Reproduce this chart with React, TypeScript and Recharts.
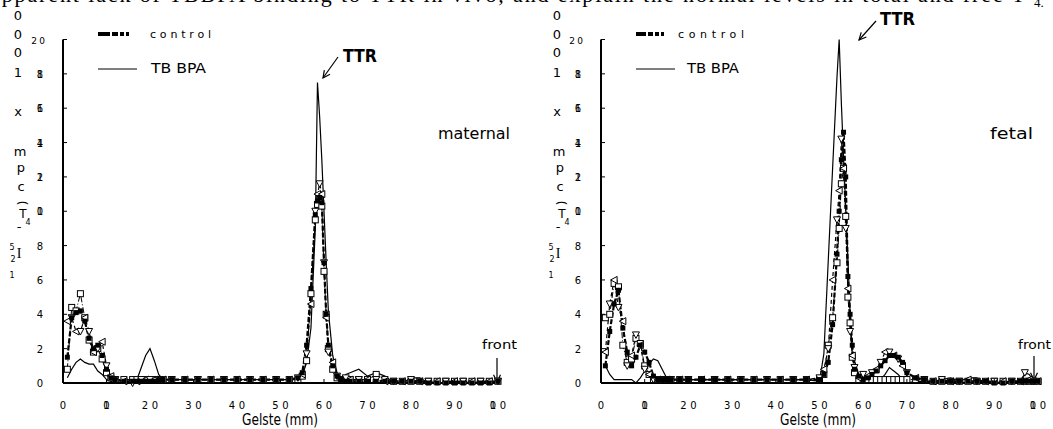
import React from "react";
import { LineChart, Line, XAxis, YAxis } from "recharts";

// gel position (mm) and 125I-T4 counts (cpm x 1000)
const maternalPos = [
  1, 2, 3, 4, 5, 6, 7, 8, 9, 10, 11, 12,
  14, 16, 17, 18, 19, 20, 21, 22, 23,
  25, 28, 31, 34, 37, 40, 43, 46, 49, 52,
  54, 55, 56, 57, 58, 58.5, 59, 59.5, 60, 60.5, 61, 62, 63, 64, 65, 66,
  68, 70, 72, 74, 76, 78, 80, 82, 84, 86, 88, 90, 92, 94, 96, 98, 100,
];
const maternalControl = [
  1.5, 3.8, 4.1, 4.2, 3.6, 2.6, 2.0, 2.2, 1.6, 0.8, 0.3, 0.2,
  0.1, 0.1, 0.1, 0.1, 0.1, 0.1, 0.1, 0.2, 0.2,
  0.2, 0.2, 0.2, 0.2, 0.2, 0.2, 0.2, 0.2, 0.2, 0.2,
  0.3, 0.6, 2.2, 5.5, 9.8, 10.6, 10.8, 10.5, 7.0, 4.0, 2.2, 1.0, 0.4, 0.2, 0.1, 0.1,
  0.1, 0.1, 0.1, 0.1, 0.1, 0.1, 0.1, 0.1, 0, 0, 0, 0, 0, 0, 0, 0, 0.1,
];
const maternalSquares = [
  0.8, 4.4, 4.2, 5.2, 3.8, 2.5, 1.8, 2.0, 1.4, 0.6, 0.3, 0.2,
  0.2, 0.2, 0.2, 0.2, 0.2, 0.2, 0.2, 0.2, 0.2,
  0.2, 0.2, 0.2, 0.2, 0.2, 0.2, 0.2, 0.2, 0.2, 0.2,
  0.2, 0.4, 1.3, 5.2, 9.5, 10.4, 10.7, 10.3, 6.5, 4.0, 2.0, 0.8, 0.3, 0.2, 0.2, 0.2,
  0.2, 0.2, 0.5, 0.2, 0.1, 0.1, 0.1, 0.1, 0.1, 0.1, 0.1, 0.1, 0.1, 0.1, 0.1, 0.1, 0.1,
];
const maternalTriangles = [
  3.6, 3.8, 3.0, 3.0, 3.8, 3.0, 1.8, 2.0, 2.4, 1.0, 0.4, 0.2,
  0.1, 0.0, 0.1, 0.2, 0.2, 0.2, 0.2, 0.2, 0.2,
  0.2, 0.2, 0.2, 0.2, 0.2, 0.2, 0.2, 0.2, 0.2, 0.2,
  0.3, 0.5, 1.7, 4.6, 10.0, 11.0, 11.6, 11.0, 7.0, 3.8, 1.8, 1.2, 0.4, 0.2, 0.3, 0.2,
  0.2, 0.2, 0.2, 0.1, 0.1, 0.1, 0.2, 0.1, 0.1, 0.1, 0.1, 0.1, 0.1, 0.1, 0.1, 0.1, 0.1,
];
const maternalTbbpa = [
  0.3, 0.8, 1.2, 1.4, 1.2, 1.1, 1.1, 0.7, 0.5, 0.2, 0.1, 0.1,
  0, 0, 0.2, 0.9, 1.6, 2.0, 1.3, 0.5, 0.2,
  0.2, 0.2, 0.2, 0.2, 0.2, 0.2, 0.2, 0.2, 0.2, 0.2,
  0.2, 0.4, 1.2, 3.2, 9.0, 17.5, 15.5, 13.0, 10.0, 7.0, 4.2, 1.6, 0.6, 0.2, 0.5, 0.6,
  0.8, 0.4, 0.6, 0.4, 0, 0, 0.3, 0.3, 0, 0, 0, 0, 0, 0, 0, 0.2, 0,
];

const fetalPos = [
  1, 2, 3, 4, 5, 6, 7, 8, 9, 10, 11, 12, 13, 14, 15, 16,
  18, 20, 23, 26, 29, 32, 35, 38, 41, 44, 47, 50,
  51, 52, 53, 54, 54.5, 55, 55.5, 56, 56.5, 57, 57.5, 58, 59, 60,
  61, 62, 63, 64, 65, 66, 67, 68, 69, 70,
  72, 74, 76, 78, 80, 82, 84, 86, 88, 90, 92, 94, 96, 97, 98, 99, 100,
];
const fetalControl = [
  1.0, 3.0, 4.6, 5.4, 3.2, 1.8, 1.0, 1.5, 2.2, 1.8, 1.2, 0.4, 0.2, 0.2, 0.2, 0.2,
  0.2, 0.2, 0.2, 0.2, 0.2, 0.2, 0.2, 0.2, 0.2, 0.2, 0.2, 0.2,
  0.5, 1.2, 3.4, 7.5, 10.0, 13.0, 14.6, 12.0, 6.2, 4.0, 2.2, 0.8, 0.4, 0.2,
  0.3, 0.5, 0.7, 1.0, 1.3, 1.6, 1.6, 1.5, 1.2, 0.6,
  0.3, 0.2, 0.1, 0.1, 0.1, 0.1, 0.1, 0.1, 0.1, 0, 0, 0.1, 0.1, 0.1, 0.1, 0.1, 0.1,
];
const fetalSquares = [
  3.8, 4.0, 5.8, 5.6, 2.2, 1.2, 1.4, 2.6, 2.3, 1.0, 0.5, 0.2, 0.2, 0.2, 0.2, 0.2,
  0.2, 0.2, 0.2, 0.2, 0.2, 0.2, 0.2, 0.2, 0.2, 0.2, 0.2, 0.2,
  0.5, 2.2, 3.8, 7.0, 9.0, 11.6, 12.5, 9.7, 5.0, 3.5, 1.5, 0.6, 0.2, 0.2,
  0.2, 0.2, 0.2, 0.2, 0.2, 0.2, 0.2, 0.2, 0.2, 0.2,
  0.2, 0.2, 0.1, 0.1, 0.1, 0.1, 0.1, 0.1, 0.1, 0.1, 0.1, 0.1, 0.1, 0.1, 0.1, 0.1, 0.1,
];
const fetalTriangles = [
  1.8, 4.6, 6.0, 4.4, 3.6, 1.0, 1.6, 2.8, 2.2, 0.8, 0.5, 0.2, 0.2, 0.2, 0.2, 0.2,
  0.2, 0.2, 0.2, 0.2, 0.2, 0.2, 0.2, 0.2, 0.2, 0.2, 0.2, 0.3,
  0.8, 2.0, 6.0, 9.5, 11.2, 14.2, 12.5, 9.0, 5.5, 3.0, 1.6, 0.9, 0.3, 0.5,
  0.4, 0.6, 0.8, 1.2, 1.8, 1.8, 1.6, 1.4, 1.0, 0.6,
  0.3, 0.2, 0.1, 0.2, 0.1, 0.1, 0.2, 0.1, 0.1, 0.1, 0.1, 0.1, 0.1, 0.6, 0.2, 0.1, 0.1,
];
const fetalTbbpa = [
  1.0, 0.5, 0.2, 0.2, 0.2, 0.2, 0.2, 0.0, 0.3, 0.7, 1.1, 1.4, 1.3, 0.8, 0.3, 0.2,
  0.2, 0.2, 0.2, 0.2, 0.2, 0.2, 0.2, 0.2, 0.2, 0.2, 0.2, 0.1,
  1.7, 7.1, 12.5, 17.8, 20.0, 16.3, 13.2, 10.2, 7.2, 4.1, 1.7, 1.3, 0.5, 0.0,
  0.0, 0.0, 0.0, 0.2, 0.5, 0.9, 0.7, 0.5, 0.2, 0.0,
  0.1, 0.1, 0.1, 0.2, 0.3, 0.1, 0.3, 0.3, 0, 0, 0, 0, 0, 0.6, 0.5, 0.1, 0,
];

const xTicks = [0, 10, 20, 30, 40, 50, 60, 70, 80, 90, 100];
const yTicks = [0, 2, 4, 6, 8, 10, 12, 14, 16, 18, 20];

const headerText =
  "apparent lack of TBBPA binding to TTR in vivo, and explain the normal levels in total and free T";

// stacked glyphs of the vertical y title, as printed in the scan
const yTitleGlyphs = [
  { ch: "0", x: 18, y: 15, size: 13 },
  { ch: "0", x: 18, y: 34, size: 13 },
  { ch: "0", x: 18, y: 52, size: 13 },
  { ch: "1", x: 18, y: 72, size: 13 },
  { ch: "x", x: 18, y: 111, size: 13 },
  { ch: "m", x: 20, y: 151, size: 13 },
  { ch: "p", x: 21, y: 167, size: 13 },
  { ch: "c", x: 21, y: 186, size: 13 },
  { ch: "(", x: 22, y: 203, size: 13, rot: 90 },
  { ch: "T", x: 23, y: 214, size: 12 },
  { ch: "-", x: 19, y: 226, size: 13 },
  { ch: "4", x: 28, y: 222, size: 8 },
  { ch: "5", x: 12, y: 247, size: 8 },
  { ch: "I", x: 19, y: 253, size: 14 },
  { ch: "2", x: 13, y: 259, size: 8 },
  { ch: "1", x: 12, y: 275, size: 8 },
];

const tickFont = "'DejaVu Sans', sans-serif";
const handFont = "'DejaVu Sans Condensed', 'Liberation Sans Narrow', 'DejaVu Sans', sans-serif";

const buildRows = (
  pos: number[],
  control: number[],
  squares: number[],
  triangles: number[],
  tbbpa: number[]
) =>
  pos.map((p, i) => ({
    pos: p,
    control: control[i],
    squares: squares[i],
    triangles: triangles[i],
    tbbpa: tbbpa[i],
  }));

const maternalRows = buildRows(maternalPos, maternalControl, maternalSquares, maternalTriangles, maternalTbbpa);
const fetalRows = buildRows(fetalPos, fetalControl, fetalSquares, fetalTriangles, fetalTbbpa);

const Digit = ({ x, y, ch, size = 10 }: any) => (
  <text x={x} y={y} textAnchor="middle" fontSize={size} fontFamily={tickFont} fill="#000">
    {ch}
  </text>
);

const XTick = (props: any) => {
  const { x, y, payload } = props;
  const v: number = payload.value;
  const ty = y + 26;
  let label: React.ReactNode;
  if (v === 0) label = <Digit x={x} y={ty} ch="0" />;
  else if (v === 10)
    label = (
      <>
        <Digit x={x} y={ty} ch="1" />
        <Digit x={x} y={ty} ch="0" />
      </>
    );
  else if (v === 100)
    label = (
      <>
        <Digit x={x - 5} y={ty} ch="1" />
        <Digit x={x - 5} y={ty} ch="0" />
        <Digit x={x + 5} y={ty} ch="0" />
      </>
    );
  else {
    const s = String(v);
    label = (
      <>
        <Digit x={x - 5} y={ty} ch={s[0]} />
        <Digit x={x + 5} y={ty} ch={s[1]} />
      </>
    );
  }
  return (
    <g>
      <line x1={x} y1={y} x2={x} y2={y - 4} stroke="#000" strokeWidth={1} />
      {label}
    </g>
  );
};

const YTick = (props: any) => {
  const { x, y, payload } = props;
  const v: number = payload.value;
  const ty = y + 4;
  let label: React.ReactNode;
  if (v === 20)
    label = (
      <>
        <Digit x={x - 29} y={ty} ch="2" size={9} />
        <Digit x={x - 21} y={ty} ch="0" size={9} />
      </>
    );
  else if (v >= 10)
    label = (
      <>
        <Digit x={x - 23} y={ty} ch="1" size={10} />
        <Digit x={x - 23} y={ty} ch={String(v - 10)} size={10} />
      </>
    );
  else label = <Digit x={x - 23} y={ty} ch={String(v)} size={10} />;
  return (
    <g>
      <line x1={x} y1={y} x2={x + 4} y2={y} stroke="#000" strokeWidth={1} />
      {label}
    </g>
  );
};

const filledSquare = (p: any) => (
  <rect key={`fs${p.index}`} x={p.cx - 2.5} y={p.cy - 2.5} width={5} height={5} fill="#000" />
);
const openSquare = (p: any) => (
  <rect
    key={`os${p.index}`}
    x={p.cx - 3}
    y={p.cy - 3}
    width={6}
    height={6}
    fill="#fff"
    stroke="#000"
    strokeWidth={1}
  />
);
const openTriangle = (p: any) => {
  const { cx, cy, index } = p;
  const d =
    index % 2 === 0
      ? `M${cx + 3},${cy - 3.5} L${cx - 3.5},${cy} L${cx + 3},${cy + 3.5} Z`
      : `M${cx - 3.5},${cy - 3} L${cx + 3.5},${cy - 3} L${cx},${cy + 3.5} Z`;
  return <path key={`ot${index}`} d={d} fill="#fff" stroke="#000" strokeWidth={1} />;
};

const Panel = ({
  rows,
  width,
  left,
  axisLeft,
  right,
}: {
  rows: any[];
  width: number;
  left: number;
  axisLeft: number;
  right: number;
}) => (
  <div style={{ position: "absolute", left, top: 0 }}>
    <LineChart
      width={width}
      height={429}
      data={rows}
      margin={{ top: 39.5, right, bottom: 0, left: 0 }}
    >
      <XAxis
        type="number"
        dataKey="pos"
        domain={[0, 100]}
        ticks={xTicks}
        interval={0}
        height={46}
        tickSize={0}
        tickMargin={0}
        tickLine={false}
        tick={<XTick />}
        axisLine={{ stroke: "#000", strokeWidth: 2 }}
      />
      <YAxis
        type="number"
        domain={[0, 20]}
        ticks={yTicks}
        interval={0}
        width={axisLeft}
        tickSize={0}
        tickMargin={0}
        tickLine={false}
        tick={<YTick />}
        axisLine={{ stroke: "#000", strokeWidth: 2 }}
      />
      <Line
        type="linear"
        dataKey="squares"
        stroke="#000"
        strokeWidth={1}
        strokeDasharray="6 2 1 2"
        dot={openSquare}
        activeDot={false}
        isAnimationActive={false}
      />
      <Line
        type="linear"
        dataKey="triangles"
        stroke="#000"
        strokeWidth={1.2}
        strokeDasharray="4 3"
        dot={openTriangle}
        activeDot={false}
        isAnimationActive={false}
      />
      <Line
        type="linear"
        dataKey="control"
        stroke="#000"
        strokeWidth={2.2}
        strokeDasharray="5 2"
        dot={filledSquare}
        activeDot={false}
        isAnimationActive={false}
      />
      <Line
        type="linear"
        dataKey="tbbpa"
        stroke="#000"
        strokeWidth={1.2}
        dot={false}
        activeDot={false}
        isAnimationActive={false}
      />
    </LineChart>
  </div>
);

const Arrow = ({ x1, y1, x2, y2 }: { x1: number; y1: number; x2: number; y2: number }) => {
  const a = Math.atan2(y2 - y1, x2 - x1);
  const h = 8;
  const p1 = [x2 - h * Math.cos(a - 0.45), y2 - h * Math.sin(a - 0.45)];
  const p2 = [x2 - h * Math.cos(a + 0.45), y2 - h * Math.sin(a + 0.45)];
  return (
    <g stroke="#000" strokeWidth={1.2} fill="none">
      <line x1={x1} y1={y1} x2={x2} y2={y2} />
      <polyline points={`${p1[0]},${p1[1]} ${x2},${y2} ${p2[0]},${p2[1]}`} />
    </g>
  );
};

const Overlay = () => (
  <svg
    width={1053}
    height={429}
    style={{ position: "absolute", left: 0, top: 0, pointerEvents: "none" }}
  >
    <text
      x={-10}
      y={2}
      fontSize={22}
      fontFamily="'Liberation Serif', 'Times New Roman', serif"
      textLength={1035}
      lengthAdjust="spacing"
    >
      {headerText}
    </text>
    <text x={1034} y={7} fontSize={13} fontFamily="'Liberation Serif', serif">
      4.
    </text>

    {[0, 539].map((off) =>
      yTitleGlyphs.map((g, i) => (
        <text
          key={`yt${off}-${i}`}
          x={g.x + off}
          y={g.y}
          fontSize={g.size}
          fontFamily={g.ch === "I" ? "'Liberation Serif', serif" : tickFont}
          textAnchor="middle"
          dominantBaseline="central"
          transform={g.rot ? `rotate(${g.rot} ${g.x + off} ${g.y})` : undefined}
        >
          {g.ch}
        </text>
      ))
    )}

    {/* legends */}
    <line x1={98} y1={34} x2={137} y2={34} stroke="#000" strokeWidth={4} strokeDasharray="12 2 6 2 4 2 3" />
    <text x={150} y={38} fontSize={11} fontFamily={tickFont} textLength={61} lengthAdjust="spacing">
      control
    </text>
    <line x1={98} y1={69} x2={137} y2={69} stroke="#000" strokeWidth={1.2} />
    <text x={151} y={73} fontSize={14} fontFamily={handFont} textLength={55} lengthAdjust="spacingAndGlyphs">
      TB BPA
    </text>

    <line x1={636} y1={34} x2={668} y2={34} stroke="#000" strokeWidth={4} strokeDasharray="10 2 5 2 4 2 3" />
    <text x={678} y={38} fontSize={11} fontFamily={tickFont} textLength={66} lengthAdjust="spacing">
      control
    </text>
    <line x1={636} y1={69} x2={675} y2={69} stroke="#000" strokeWidth={1.2} />
    <text x={687} y={73} fontSize={14} fontFamily={handFont} textLength={52} lengthAdjust="spacingAndGlyphs">
      TB BPA
    </text>

    {/* TTR labels */}
    <text x={343} y={62} fontSize={17} fontWeight="bold" fontFamily={tickFont} textLength={34} lengthAdjust="spacingAndGlyphs">
      TTR
    </text>
    <Arrow x1={338} y1={57} x2={323} y2={78} />
    <text x={880} y={25} fontSize={17} fontWeight="bold" fontFamily={tickFont} textLength={35} lengthAdjust="spacingAndGlyphs">
      TTR
    </text>
    <Arrow x1={876} y1={21} x2={859} y2={40} />

    <text x={438} y={139} fontSize={16} fontFamily={handFont} textLength={72} lengthAdjust="spacingAndGlyphs">
      maternal
    </text>
    <text x={990} y={139} fontSize={16} fontFamily={handFont} textLength={43} lengthAdjust="spacingAndGlyphs">
      fetal
    </text>

    <text x={482} y={349} fontSize={12} fontFamily={handFont} textLength={35} lengthAdjust="spacingAndGlyphs">
      front
    </text>
    <Arrow x1={497} y1={358} x2={497} y2={382} />
    <text x={1018} y={349} fontSize={12} fontFamily={handFont} textLength={33} lengthAdjust="spacingAndGlyphs">
      front
    </text>
    <Arrow x1={1034} y1={356} x2={1034} y2={380} />

    <text x={242} y={425} fontSize={15} fontFamily={handFont} textLength={76} lengthAdjust="spacingAndGlyphs">
      Gelste (mm)
    </text>
    <text x={780} y={425} fontSize={15} fontFamily={handFont} textLength={76} lengthAdjust="spacingAndGlyphs">
      Gelste (mm)
    </text>
  </svg>
);

export default function App() {
  return (
    <div
      style={{
        position: "absolute",
        left: 0,
        top: 0,
        width: 1053,
        height: 429,
        overflow: "hidden",
        background: "#fff",
      }}
    >
      <Overlay />
      <Panel rows={maternalRows} width={530} left={0} axisLeft={63} right={32} />
      <Panel rows={fetalRows} width={523} left={530} axisLeft={71} right={15} />
    </div>
  );
}
